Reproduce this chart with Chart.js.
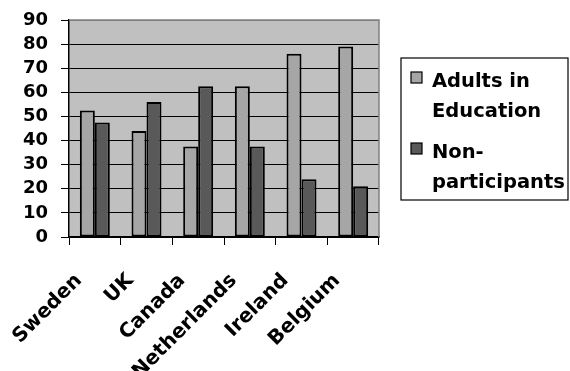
<!DOCTYPE html>
<html>
<head>
<meta charset="utf-8">
<script src="https://cdn.jsdelivr.net/npm/chart.js@4/dist/chart.umd.min.js"></script>
<style>
  html, body { margin: 0; padding: 0; background: #ffffff; }
  #wrap { width: 570px; height: 371px; }
</style>
</head>
<body>
<div id="wrap"><canvas id="c" width="570" height="371"></canvas></div>
<script>
// Participation in adult education by country (percent)
const countries = ['Sweden', 'UK', 'Canada', 'Netherlands', 'Ireland', 'Belgium'];
const adultsInEducation = [52.5, 44, 37.5, 62.5, 76, 79];
const nonParticipants = [47.5, 56, 62.5, 37.5, 24, 21];
const seriesNames = ['Adults in Education', 'Non-participants'];
const seriesColors = ['#a6a6a6', '#595959'];
const yTicks = [0, 10, 20, 30, 40, 50, 60, 70, 80, 90];

const FONT = '"DejaVu Sans", sans-serif';

// Grey plot area with a grey top/right frame
const plotBackground = {
  id: 'plotBackground',
  beforeDraw(chart) {
    const { ctx, chartArea: a } = chart;
    ctx.save();
    ctx.fillStyle = '#c0c0c0';
    ctx.fillRect(a.left, a.top, a.right - a.left, a.bottom - a.top);
    ctx.restore();
  },
  beforeDatasetsDraw(chart) {
    const { ctx, chartArea: a } = chart;
    ctx.save();
    ctx.strokeStyle = '#808080';
    ctx.lineWidth = 1.5;
    ctx.beginPath();
    ctx.moveTo(a.left, a.top);
    ctx.lineTo(a.right, a.top);
    ctx.lineTo(a.right, a.bottom);
    ctx.stroke();
    ctx.restore();
  }
};

// Boxed legend on the right with wrapped labels
function wrapText(ctx, text, maxWidth) {
  const tokens = text.match(/[^\s-]+-?|\s+/g) || [];
  const lines = [];
  let line = '';
  for (const tok of tokens) {
    const trial = line + tok;
    if (line && ctx.measureText(trial.trimEnd()).width > maxWidth) {
      lines.push(line.trimEnd());
      line = tok.trimStart();
    } else {
      line = trial;
    }
  }
  if (line.trim()) lines.push(line.trimEnd());
  return lines;
}

const boxLegend = {
  id: 'boxLegend',
  afterDraw(chart) {
    const { ctx } = chart;
    const box = { x: 401, y: 58, w: 167, h: 142 };
    ctx.save();
    ctx.fillStyle = '#ffffff';
    ctx.fillRect(box.x, box.y, box.w, box.h);
    ctx.strokeStyle = '#000000';
    ctx.lineWidth = 1.2;
    ctx.strokeRect(box.x, box.y, box.w, box.h);
    ctx.font = 'bold 19.5px ' + FONT;
    ctx.textBaseline = 'alphabetic';
    ctx.textAlign = 'left';
    const lineGap = 30;
    let baseline = 87;
    chart.data.datasets.forEach((ds) => {
      const lines = wrapText(ctx, ds.label, 140);
      ctx.fillStyle = ds.backgroundColor;
      ctx.fillRect(411, baseline - 15, 11, 11);
      ctx.strokeStyle = '#000';
      ctx.lineWidth = 1.2;
      ctx.strokeRect(411, baseline - 15, 11, 11);
      ctx.fillStyle = '#000';
      lines.forEach((ln, i) => ctx.fillText(ln, 432, baseline + i * lineGap));
      baseline += lines.length * lineGap + 11;
    });
    ctx.restore();
  }
};

new Chart(document.getElementById('c'), {
  type: 'bar',
  data: {
    labels: countries,
    datasets: [
      { label: seriesNames[0], data: adultsInEducation, backgroundColor: seriesColors[0],
        borderColor: '#000', borderWidth: 2, borderSkipped: false },
      { label: seriesNames[1], data: nonParticipants, backgroundColor: seriesColors[1],
        borderColor: '#000', borderWidth: 2, borderSkipped: false }
    ]
  },
  options: {
    responsive: false,
    animation: false,
    events: [],
    layout: { padding: { left: 0, top: 20, right: 191, bottom: 0 } },
    datasets: { bar: { categoryPercentage: 0.58, barPercentage: 1 } },
    plugins: { legend: { display: false }, tooltip: { enabled: false } },
    scales: {
      x: {
        afterFit(scale) { scale.height = 134; scale.paddingLeft = 0; scale.paddingRight = 0; },
        grid: { drawOnChartArea: false, drawTicks: true, tickLength: 8, color: '#000', offset: true },
        border: { color: '#000', width: 1.5 },
        ticks: {
          maxRotation: 45, minRotation: 45, autoSkip: false,
          color: '#000', padding: 24, labelOffset: -16,
          font: { family: FONT, size: 20, weight: 'bold' }
        }
      },
      y: {
        min: 0, max: 90,
        afterFit(scale) { scale.width = 69; scale.paddingTop = 0; scale.paddingBottom = 0; },
        afterBuildTicks(scale) { scale.ticks = yTicks.map(v => ({ value: v })); },
        grid: {
          color: (c) => (c.tick && c.tick.value === 90 ? '#808080' : '#000'),
          tickColor: '#000', lineWidth: 1, tickLength: 8
        },
        border: { color: '#000', width: 1.5 },
        ticks: {
          autoSkip: false,
          color: '#000', padding: 13,
          font: { family: FONT, size: 18, weight: 'bold' }
        }
      }
    }
  },
  plugins: [plotBackground, boxLegend]
});
</script>
</body>
</html>
